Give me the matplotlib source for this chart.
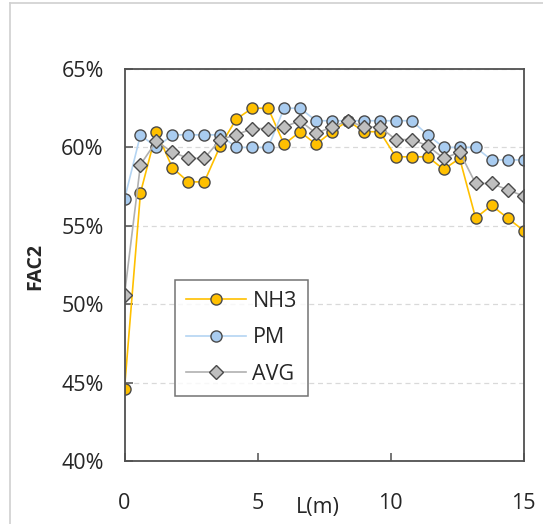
import matplotlib
matplotlib.use("Agg")
import matplotlib.pyplot as plt
from matplotlib.lines import Line2D
from matplotlib.ticker import FuncFormatter, MultipleLocator

plt.rcParams['font.family'] = ['Open Sans', 'DejaVu Sans']

# Distance along the line, 0.6 m spacing
L = [0.0, 0.6, 1.2, 1.8, 2.4, 3.0, 3.6, 4.2, 4.8, 5.4, 6.0, 6.6, 7.2,
     7.8, 8.4, 9.0, 9.6, 10.2, 10.8, 11.4, 12.0, 12.6, 13.2, 13.8, 14.4, 15.0]

nh3 = [44.6, 57.1, 61.0, 58.7, 57.8, 57.8, 60.1, 61.8, 62.5, 62.5, 60.2, 61.0, 60.2,
       61.0, 61.7, 61.0, 61.0, 59.4, 59.4, 59.4, 58.6, 59.3, 55.5, 56.3, 55.5, 54.7]
pm = [56.7, 60.8, 60.0, 60.8, 60.8, 60.8, 60.8, 60.0, 60.0, 60.0, 62.5, 62.5, 61.7,
      61.7, 61.7, 61.7, 61.7, 61.7, 61.7, 60.8, 60.0, 60.0, 60.0, 59.2, 59.2, 59.2]
avg = [50.6, 58.9, 60.4, 59.7, 59.3, 59.3, 60.5, 60.8, 61.2, 61.2, 61.3, 61.7, 60.9,
       61.3, 61.7, 61.3, 61.3, 60.5, 60.5, 60.1, 59.3, 59.7, 57.7, 57.7, 57.3, 56.9]

series = [
    ("NH3", nh3, "o", "#FFC000", "#FFC000"),
    ("PM", pm, "o", "#A9CCF0", "#B4D4F2"),
    ("AVG", avg, "D", "#BFBFBF", "#B0B0B0"),
]

W, H = 543, 524
fig = plt.figure(figsize=(W / 100, H / 100), dpi=100)
ax = fig.add_axes([124.5 / W, 1 - 461 / H, 399 / W, 392 / H])

for name, vals, mk, fill, line in series:
    ax.plot(L, vals, color=line, lw=1.2, marker=mk,
            markersize=8.0 if mk == "o" else 7.0,
            markerfacecolor=fill, markeredgecolor="#4A4A4A",
            markeredgewidth=1.0, label=name)

ax.set_xlim(0, 15)
ax.set_ylim(40, 65)
ax.xaxis.set_major_locator(MultipleLocator(5))
ax.yaxis.set_major_locator(MultipleLocator(5))
ax.yaxis.set_major_formatter(FuncFormatter(lambda v, p: f"{v:.0f}%"))

ax.grid(axis="y", color="#D9D9D9", linestyle=(0, (4, 3)), linewidth=0.9)
ax.set_axisbelow(True)

for s in ax.spines.values():
    s.set_color("#505050")
    s.set_linewidth(1.3)

ax.tick_params(axis="both", direction="in", length=6, width=1.1,
               color="#505050", labelsize=15.5, labelcolor="#262626")
ax.tick_params(axis="x", pad=23)
ax.tick_params(axis="y", pad=15)

fig.text(25 / W, 1 - 267 / H, "FAC2", rotation=90, fontsize=14, fontweight="bold",
         color="#262626", ha="left", va="center")
fig.text(318 / W, 1 - 507 / H, "L(m)", fontsize=15.5, color="#262626",
         ha="center", va="center")

leg = ax.legend(loc="upper left", bbox_to_anchor=((175 - 124.5) / 399, (461 - 280) / 392),
                borderaxespad=0, frameon=True, fancybox=False, fontsize=15.5,
                handlelength=2.8, handletextpad=0.3, labelspacing=0.72,
                borderpad=0.5)
leg.get_frame().set_edgecolor("#505050")
leg.get_frame().set_linewidth(1.1)
for t in leg.get_texts():
    t.set_color("#262626")

# Chart-area border
fig.add_artist(Line2D([10 / W, 10 / W], [0, 1 - 3 / H], color="#D0D0D0", lw=1.2))
fig.add_artist(Line2D([10 / W, 1], [1 - 3 / H, 1 - 3 / H], color="#D0D0D0", lw=1.2))

fig.savefig("out.png", dpi=100)
